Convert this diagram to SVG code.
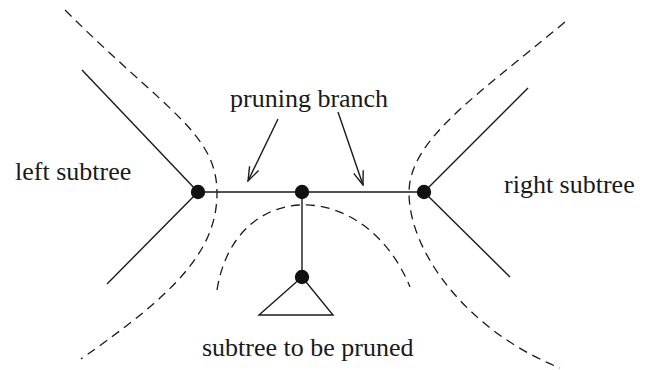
<svg xmlns="http://www.w3.org/2000/svg" width="647" height="370" viewBox="0 0 647 370">
  <style>
    .edge { stroke: #1a1a1a; stroke-width: 1.4; fill: none; }
    .cut { stroke: #1a1a1a; stroke-width: 1.3; fill: none; stroke-dasharray: 9 6; }
    .dot { fill: #111; }
    .label { font-family: "Liberation Serif", "Times New Roman", serif; font-size: 26px; fill: #1a1a1a; }
  </style>
  <defs>
    <marker id="vee" viewBox="0 0 16 12" refX="15" refY="6" markerWidth="16" markerHeight="12" markerUnits="userSpaceOnUse" orient="auto">
      <path d="M1,1 L15,6 L1,11" fill="none" stroke="#1a1a1a" stroke-width="1.4"/>
    </marker>
  </defs>

  <rect width="647" height="370" fill="#fff"/>

  <!-- dashed cut curves -->
  <g id="cuts">
    <path class="cut" d="M65,10 C165,110 217,133 217,193 C217,253 171,296 81,359"/>
    <path class="cut" d="M565,22 C475,97 409,140 409,193 C409,250 465,330 560,368"/>
    <path class="cut" d="M217,290 C235,177 365,177 410,287"/>
  </g>

  <!-- tree edges and label arrows -->
  <g id="connectors">
    <line class="edge" x1="198" y1="192" x2="424" y2="192"/>
    <line class="edge" x1="82" y1="70" x2="198" y2="192"/>
    <line class="edge" x1="107" y1="284" x2="198" y2="192"/>
    <line class="edge" x1="528" y1="88" x2="424" y2="192"/>
    <line class="edge" x1="510" y1="277" x2="424" y2="192"/>
    <line class="edge" x1="302" y1="192" x2="302" y2="277"/>
    <line class="edge" x1="278" y1="119" x2="248" y2="181" marker-end="url(#vee)"/>
    <line class="edge" x1="338" y1="112" x2="363" y2="185" marker-end="url(#vee)"/>
  </g>

  <g id="node-left"><circle class="dot" cx="198" cy="192" r="7.2"/></g>
  <g id="node-mid"><circle class="dot" cx="302" cy="192" r="7.2"/></g>
  <g id="node-right"><circle class="dot" cx="424" cy="192" r="7.2"/></g>
  <g id="node-pruned">
    <polygon class="edge" points="302,277 259,315 333,315"/>
    <circle class="dot" cx="302" cy="277" r="7.2"/>
  </g>

  <g id="labels">
    <text class="label" x="230" y="107">pruning branch</text>
    <text class="label" x="15" y="180">left subtree</text>
    <text class="label" x="504" y="193">right subtree</text>
    <text class="label" x="202" y="356">subtree to be pruned</text>
  </g>
</svg>
